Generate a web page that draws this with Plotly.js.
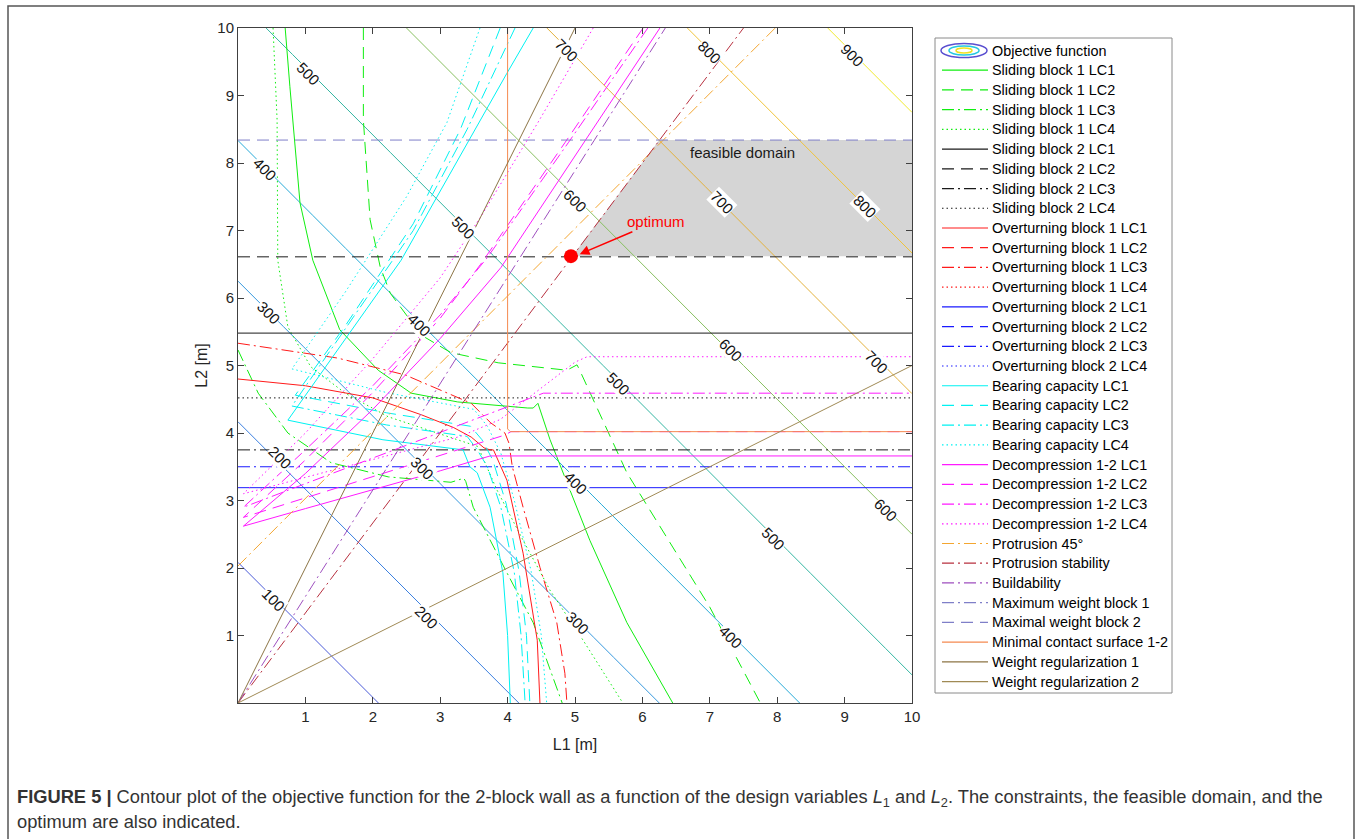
<!DOCTYPE html>
<html>
<head>
<meta charset="utf-8">
<script src="https://cdn.plot.ly/plotly-3.0.1.min.js"></script>
<style>
html,body{margin:0;padding:0;background:#fff;}
#chart{width:1357px;height:839px;}
</style>
</head>
<body>
<div id="chart"></div>
<script>
// ---------- Objective function (values read at grid corners) ----------
const objL1 = [0, 5, 10];
const objL2 = [0, 5, 10];
const objZ = [[0, 240, 480], [240, 480, 720], [480, 720, 960]];
const objLevels = [100, 900, 100];
// contour labels as placed in the figure
const labText = ['100','200','200','300','300','300','400','400','400','400','500','500','500','500','600','600','600','700','700','700','800','800','900'];
const labL1 = [0.52, 0.62, 2.8, 0.45, 2.74, 5.03, 0.4, 2.7, 5.0, 7.3, 1.04, 3.34, 5.64, 7.94, 5.0, 7.3, 9.6, 4.88, 7.18, 9.48, 7.0, 9.3, 9.12];
const labL2 = [1.53, 3.63, 1.27, 5.78, 3.48, 1.19, 7.9, 5.6, 3.26, 0.98, 9.33, 7.05, 4.74, 2.44, 7.45, 5.23, 2.86, 9.67, 7.41, 5.05, 9.64, 7.35, 9.6];

// ---------- Sliding block 1 ----------
const sb1lc1L1 = [0.70, 0.77, 0.92, 1.11, 1.51, 2.08, 2.57, 3.26, 4.30, 4.38, 4.45, 4.63, 5.22, 5.77, 6.45];
const sb1lc1L2 = [10, 9.13, 7.41, 6.56, 5.53, 4.93, 4.59, 4.46, 4.37, 4.37, 4.44, 3.90, 2.41, 1.19, 0];
const sb1lc2L1 = [1.86, 1.86, 1.96, 2.11, 2.26, 2.66, 2.77, 3.16, 3.86, 4.88, 5.03, 5.07, 5.77, 7.0, 7.75];
const sb1lc2L2 = [10, 8.64, 7.16, 6.46, 6.07, 5.53, 5.42, 5.19, 5.04, 4.93, 5.01, 4.93, 3.41, 1.42, 0];
const sb1lc3L1 = [0, 0.30, 0.74, 1.38, 2.23, 3.16, 3.35, 3.38, 3.49, 3.74, 3.99, 4.38, 4.81];
const sb1lc3L2 = [5.23, 4.59, 4.0, 3.56, 3.35, 3.27, 3.33, 3.28, 2.90, 2.41, 1.93, 1.19, 0];
const sb1lc4L1 = [0.52, 0.58, 0.59, 0.74, 1.08, 1.59, 2.23, 2.97, 3.56, 3.84, 4.23, 4.63, 5.12, 5.71];
const sb1lc4L2 = [10, 8.64, 6.56, 5.57, 4.98, 4.59, 4.24, 4.0, 3.8, 3.16, 2.41, 1.67, 0.93, 0];

// ---------- Sliding block 2 (horizontal limits) ----------
const fullL1 = [0, 10];
const sb2lc1L2 = [5.48, 5.48];
const sb2lc2L2 = [6.61, 6.61];
const sb2lc3L2 = [3.75, 3.75];
const sb2lc4L2 = [4.52, 4.52];

// ---------- Overturning block 1 ----------
const ob1lc1L1 = [0, 1.0, 2.0, 2.72, 3.2, 3.46, 3.65, 3.74, 3.79, 3.82, 3.99, 4.23, 4.44, 4.48];
const ob1lc1L2 = [4.8, 4.7, 4.52, 4.27, 4.08, 3.94, 3.78, 3.75, 3.75, 3.68, 3.3, 2.22, 0.93, 0];
const ob1lc3L1 = [0, 1.48, 2.48, 3.46, 3.75, 3.96, 4.02, 4.07, 4.23, 4.48, 4.73, 4.85, 4.88];
const ob1lc3L2 = [5.33, 5.11, 4.86, 4.44, 4.15, 4.0, 3.85, 3.5, 2.9, 2.01, 1.19, 0.44, 0];

// ---------- Overturning block 2 ----------
const ob2lc1L2 = [3.19, 3.19];
const ob2lc3L2 = [3.50, 3.50];

// ---------- Bearing capacity ----------
const bclc1L1 = [4.38, 3.99, 2.42, 1.4, 0.74, 2.15, 3.34, 3.44, 3.55, 3.74, 3.93, 4.0, 4.04];
const bclc1L2 = [10, 9.33, 6.56, 5.12, 4.19, 3.9, 3.75, 3.5, 3.41, 2.9, 1.93, 1.0, 0];
const bclc2L1 = [3.89, 3.3, 2.6, 1.6, 0.85, 2.2, 3.45, 3.62, 3.78, 3.98, 4.17, 4.28, 4.33];
const bclc2L2 = [10, 8.5, 7.1, 5.6, 4.56, 4.3, 4.1, 3.9, 3.6, 2.95, 1.95, 1.0, 0];
const bclc3L1 = [4.11, 3.4, 2.6, 1.6, 0.8, 2.2, 3.4, 3.55, 3.7, 3.9, 4.1, 4.2, 4.26];
const bclc3L2 = [10, 8.5, 7.0, 5.55, 4.4, 4.12, 3.95, 3.75, 3.5, 2.9, 1.93, 1.0, 0];
const bclc4L1 = [3.59, 3.1, 2.5, 1.6, 0.8, 2.2, 3.5, 3.7, 3.9, 4.1, 4.35, 4.5, 4.58];
const bclc4L2 = [10, 8.6, 7.5, 6.1, 4.95, 4.6, 4.35, 4.1, 3.7, 3.0, 1.95, 1.0, 0];

// ---------- Decompression 1-2 ----------
const dclc1L1 = [6.26, 5.1, 3.9, 3.0, 2.0, 1.0, 0.08, 1.0, 2.0, 3.0, 3.74, 10];
const dclc1L2 = [10, 8.25, 6.45, 5.4, 4.35, 3.4, 2.62, 2.88, 3.16, 3.44, 3.66, 3.66];
const dclc2L1 = [6.01, 4.85, 3.6, 3.0, 2.0, 1.0, 0.08, 3.96, 4.05, 10];
const dclc2L2 = [10, 8.3, 6.5, 5.7, 4.6, 3.6, 2.75, 3.97, 4.02, 4.02];
const dclc3L1 = [6.08, 4.9, 3.7, 3.0, 2.0, 1.0, 0.08, 4.53, 10];
const dclc3L2 = [10, 8.3, 6.6, 5.75, 4.7, 3.75, 2.9, 4.59, 4.59];
const dclc4L1 = [5.27, 4.45, 3.6, 3.0, 2.0, 1.0, 0.08, 3.3, 3.89, 5.0, 5.18, 10];
const dclc4L2 = [10, 8.6, 7.2, 6.3, 5.1, 4.0, 3.1, 3.95, 4.2, 5.05, 5.13, 5.13];

// ---------- Geometric constraints ----------
const prot45L1 = [0, 7.97];
const prot45L2 = [2.03, 10];
const protStabL1 = [0, 7.5];
const protStabL2 = [0, 10];
const buildL1 = [0, 6.34];
const buildL2 = [0, 10];
const maxW2L2 = [8.34, 8.34];
const contactL1 = [4.0, 4.0, 4.04, 10];
const contactL2 = [10, 4.06, 4.02, 4.02];
const wReg1L1 = [0, 5];
const wReg1L2 = [0, 10];
const wReg2L1 = [0, 10];
const wReg2L2 = [0, 5];

// ---------- Feasible domain & optimum ----------
const feasL1 = [4.96, 6.25, 10, 10];
const feasL2 = [6.62, 8.34, 8.34, 6.62];
const optL1 = [4.94];
const optL2 = [6.62];

// ---------- styles ----------
const DASH = '12px,7px', DASHDOT = '12px,4px,2px,4px', DOT = '1.5px,3px', SOLID = 'solid';
const GREEN = '#10ee10', BLACK = '#1a1a1a', RED = '#ff1a1a', BLUE = '#1a1aff', CYAN = '#00f2f2', MAG = '#ff1aff';
const FONT = 'Liberation Sans, Arial, Helvetica, sans-serif';

function line(name, xs, ys, color, dash) {
  return {type: 'scatter', mode: 'lines', name: name, x: xs, y: ys, showlegend: false,
    line: {color: color, width: 1, dash: dash}, hoverinfo: 'skip', inLegend: true};
}
function hline(name, ys, color, dash) { return line(name, fullL1, ys, color, dash); }
function legendOnly(name, color, dash) {
  const t = line(name, fullL1, fullL1, color, dash); t.visible = false; return t;
}

const traces = [
  {type: 'contour', name: 'Objective function', x: objL1, y: objL2, z: objZ,
   autocontour: false, showlegend: false, showscale: false, zmin: 100, zmax: 900,
   contours: {start: objLevels[0], end: objLevels[1], size: objLevels[2], coloring: 'lines', showlabels: false},
   colorscale: [[0, '#4b5bd8'], [0.125, '#3a7fe0'], [0.25, '#3698de'], [0.375, '#27aad8'],
     [0.5, '#33b6a2'], [0.625, '#88c060'], [0.75, '#e4b23c'], [0.875, '#f0c43a'], [1, '#f1ea30']],
   line: {width: 1}, hoverinfo: 'skip', inLegend: true},
  line('Sliding block 1 LC1', sb1lc1L1, sb1lc1L2, GREEN, SOLID),
  line('Sliding block 1 LC2', sb1lc2L1, sb1lc2L2, GREEN, DASH),
  line('Sliding block 1 LC3', sb1lc3L1, sb1lc3L2, GREEN, DASHDOT),
  line('Sliding block 1 LC4', sb1lc4L1, sb1lc4L2, GREEN, DOT),
  hline('Sliding block 2 LC1', sb2lc1L2, BLACK, SOLID),
  hline('Sliding block 2 LC2', sb2lc2L2, BLACK, DASH),
  hline('Sliding block 2 LC3', sb2lc3L2, BLACK, DASHDOT),
  hline('Sliding block 2 LC4', sb2lc4L2, BLACK, DOT),
  line('Overturning block 1 LC1', ob1lc1L1, ob1lc1L2, RED, SOLID),
  legendOnly('Overturning block 1 LC2', RED, DASH),
  line('Overturning block 1 LC3', ob1lc3L1, ob1lc3L2, RED, DASHDOT),
  legendOnly('Overturning block 1 LC4', RED, DOT),
  hline('Overturning block 2 LC1', ob2lc1L2, BLUE, SOLID),
  legendOnly('Overturning block 2 LC2', BLUE, DASH),
  hline('Overturning block 2 LC3', ob2lc3L2, BLUE, DASHDOT),
  legendOnly('Overturning block 2 LC4', BLUE, DOT),
  line('Bearing capacity LC1', bclc1L1, bclc1L2, CYAN, SOLID),
  line('Bearing capacity LC2', bclc2L1, bclc2L2, CYAN, DASH),
  line('Bearing capacity LC3', bclc3L1, bclc3L2, CYAN, DASHDOT),
  line('Bearing capacity LC4', bclc4L1, bclc4L2, CYAN, DOT),
  line('Decompression 1-2 LC1', dclc1L1, dclc1L2, MAG, SOLID),
  line('Decompression 1-2 LC2', dclc2L1, dclc2L2, MAG, DASH),
  line('Decompression 1-2 LC3', dclc3L1, dclc3L2, MAG, DASHDOT),
  line('Decompression 1-2 LC4', dclc4L1, dclc4L2, MAG, DOT),
  line('Protrusion 45°', prot45L1, prot45L2, '#f4a630', DASHDOT),
  line('Protrusion stability', protStabL1, protStabL2, '#b8303f', DASHDOT),
  line('Buildability', buildL1, buildL2, '#9e4fbf', DASHDOT),
  legendOnly('Maximum weight block 1', '#7f7fc8', DASHDOT),
  hline('Maximal weight block 2', maxW2L2, '#7f7fc8', DASH),
  line('Minimal contact surface 1-2', contactL1, contactL2, '#f58a50', SOLID),
  line('Weight regularization 1', wReg1L1, wReg1L2, '#8c7445', SOLID),
  line('Weight regularization 2', wReg2L1, wReg2L2, '#a08a55', SOLID),
  {type: 'scatter', mode: 'markers', x: optL1, y: optL2, showlegend: false, hoverinfo: 'skip',
   marker: {color: '#ff0000', size: 14, line: {width: 0}}}
];

const feasPath = 'M' + feasL1.map((v, i) => v + ',' + feasL2[i]).join(' L') + ' Z';

// plot area in pixels: x 238..912, y 28..703
function px(x) { return (x - 238) / 674; }
function py(y) { return (703 - y) / 675; }

const contourLabels = labText.map((t, i) => ({
  x: labL1[i], y: labL2[i], xref: 'x', yref: 'y', text: t, showarrow: false, textangle: 45,
  bgcolor: '#ffffff', borderpad: 0, font: {size: 15, color: '#111'}
}));

// ---------- hand-built legend (MATLAB style) ----------
const LEG = {left: 935, right: 1172, top: 38, bottom: 693, first: 50.5, step: 19.72, lx0: 942, lx1: 988, tx: 990};
const legendTraces = traces.filter(t => t.inLegend);
const legendShapes = [
  {type: 'rect', xref: 'paper', yref: 'paper', x0: px(LEG.left), x1: px(LEG.right), y0: py(LEG.bottom), y1: py(LEG.top),
   line: {color: '#8a8a8a', width: 1}, fillcolor: '#ffffff', layer: 'above'}
];
const legendTexts = [];
function ell(cx, cy, rx, ry, color) {
  return {type: 'circle', xref: 'paper', yref: 'paper', x0: px(cx - rx), x1: px(cx + rx),
    y0: py(cy + ry), y1: py(cy - ry), line: {color: color, width: 1.5}, fillcolor: 'rgba(0,0,0,0)', layer: 'above'};
}
legendTraces.forEach((t, i) => {
  const cy = LEG.first + i * LEG.step;
  if (t.type === 'contour') {
    legendShapes.push(ell(964, cy, 23, 7, '#5a4fd0'), ell(964, cy, 15, 4.5, '#22c8e0'), ell(964, cy, 8, 2.5, '#f0e020'));
  } else {
    legendShapes.push({type: 'line', xref: 'paper', yref: 'paper', x0: px(LEG.lx0), x1: px(LEG.lx1), y0: py(cy), y1: py(cy),
      line: {color: t.line.color, width: 1.2, dash: t.line.dash}, layer: 'above'});
  }
  legendTexts.push({x: px(LEG.tx), y: py(cy), xref: 'paper', yref: 'paper', xanchor: 'left', yanchor: 'middle',
    showarrow: false, text: t.name, font: {size: 14.4, color: '#000', family: FONT}});
});

const layout = {
  width: 1357, height: 839,
  margin: {l: 238, r: 445, t: 28, b: 136, pad: 0},
  paper_bgcolor: '#fff', plot_bgcolor: '#fff',
  font: {family: FONT, color: '#262626', size: 15},
  showlegend: false,
  xaxis: {range: [0, 10], autorange: false, tickvals: [1,2,3,4,5,6,7,8,9,10], ticks: 'inside', ticklen: 6,
    tickcolor: '#404040', showline: true, linecolor: '#404040', linewidth: 1, mirror: 'ticks',
    zeroline: false, showgrid: false, tickfont: {size: 15, color: '#262626'},
    title: {text: 'L1 [m]', font: {size: 16, color: '#262626'}, standoff: 14}},
  yaxis: {range: [0, 10], autorange: false, tickvals: [1,2,3,4,5,6,7,8,9,10], ticks: 'inside', ticklen: 6,
    tickcolor: '#404040', showline: true, linecolor: '#404040', linewidth: 1, mirror: 'ticks',
    zeroline: false, showgrid: false, tickfont: {size: 15, color: '#262626'},
    title: {text: 'L2 [m]', font: {size: 16, color: '#262626'}, standoff: 5}},
  shapes: [
    {type: 'path', path: feasPath, xref: 'x', yref: 'y', fillcolor: '#d5d5d5', line: {width: 0}, layer: 'below'},
    {type: 'rect', xref: 'paper', yref: 'paper', x0: px(8), x1: px(1354), y0: py(6), y1: py(860),
     line: {color: '#555', width: 1.5}, fillcolor: 'rgba(0,0,0,0)', layer: 'above'}
  ].concat(legendShapes),
  annotations: contourLabels.concat([
    {x: 7.48, y: 8.16, xref: 'x', yref: 'y', text: 'feasible domain', showarrow: false,
     font: {size: 15, color: '#1a1a1a'}},
    {x: 5.07, y: 6.65, xref: 'x', yref: 'y', ax: 6.2, ay: 7.13, axref: 'x', ayref: 'y',
     text: 'optimum', showarrow: true, arrowhead: 2, arrowsize: 1.3, arrowwidth: 1.5, arrowcolor: '#ff0000',
     font: {size: 15, color: '#ff0000'}},
    {x: px(15), y: py(798), xref: 'paper', yref: 'paper', xanchor: 'left', yanchor: 'middle', showarrow: false,
     align: 'left', font: {size: 18.3, color: '#333'},
     text: '<b>FIGURE 5 |</b> Contour plot of the objective function for the 2-block wall as a function of the design variables <i>L</i><sub>1</sub> and <i>L</i><sub>2</sub>. The constraints, the feasible domain, and the'},
    {x: px(15), y: py(822), xref: 'paper', yref: 'paper', xanchor: 'left', yanchor: 'middle', showarrow: false,
     align: 'left', font: {size: 18.3, color: '#333'}, text: 'optimum are also indicated.'}
  ], legendTexts)
};

Plotly.newPlot('chart', traces, layout, {displayModeBar: false, staticPlot: true});
</script>
</body>
</html>
